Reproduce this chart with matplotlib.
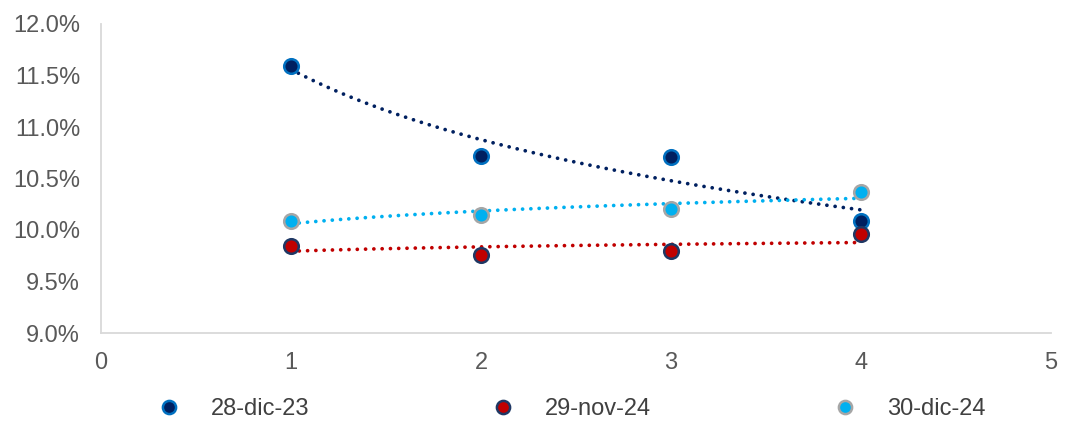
import numpy as np
import matplotlib
matplotlib.use("Agg")
import matplotlib.pyplot as plt
from matplotlib.ticker import FuncFormatter

plt.rcParams['font.family'] = ['Liberation Sans', 'DejaVu Sans']

x = [1, 2, 3, 4]
labels = ["28-dic-23", "29-nov-24", "30-dic-24"]
s_dec23 = [11.59, 10.72, 10.71, 10.09]
s_nov24 = [9.845, 9.76, 9.80, 9.965]
s_dec24 = [10.09, 10.15, 10.20, 10.37]

series = [s_dec23, s_nov24, s_dec24]
fills = ["#002060", "#C00000", "#00B0F0"]
edges = ["#0070C0", "#1F3864", "#A6A6A6"]
trend_colors = ["#002060", "#C00000", "#00B0F0"]

fig = plt.figure(figsize=(10.76, 4.32), dpi=100)
ax = fig.add_axes([101/1076, 99/432, 950/1076, 309/432])

xs = np.linspace(1, 4, 200)
for vals, fc, ec, tc, lab in zip(series, fills, edges, trend_colors, labels):
    b, a = np.polyfit(np.log(x), vals, 1)
    ax.plot(xs, a + b*np.log(xs), color=tc, lw=2.7, linestyle=(0, (0.01, 2.2)),
            dash_capstyle='round', zorder=2)
    ax.plot(x, vals, 'o', ms=10.5, mfc=fc, mec=ec, mew=1.8, zorder=3, label=lab)

ax.set_xlim(0, 5)
ax.set_ylim(9.0, 12.0)
ax.set_xticks(range(0, 6))
ax.set_yticks(np.arange(9.0, 12.01, 0.5))
ax.yaxis.set_major_formatter(FuncFormatter(lambda v, p: f"{v:.1f}%"))
ax.tick_params(length=0, labelsize=17, colors="#595959")
ax.tick_params(axis='y', pad=15)
ax.tick_params(axis='x', pad=14)
for s in ['top', 'right']:
    ax.spines[s].set_visible(False)
for s in ['left', 'bottom']:
    ax.spines[s].set_color("#D9D9D9")
    ax.spines[s].set_linewidth(1.3)

leg_handles = [plt.Line2D([], [], marker='o', ls='', ms=9.5, mfc=fc, mec=ec, mew=1.8)
               for fc, ec in zip(fills, edges)]
fig.legend(leg_handles, labels, loc='center', bbox_to_anchor=(0.531, 0.053), ncol=3,
           frameon=False, fontsize=17, labelcolor="#404040", columnspacing=7.7,
           handletextpad=1.27, handlelength=1.0)

fig.savefig("out.png", dpi=100)
